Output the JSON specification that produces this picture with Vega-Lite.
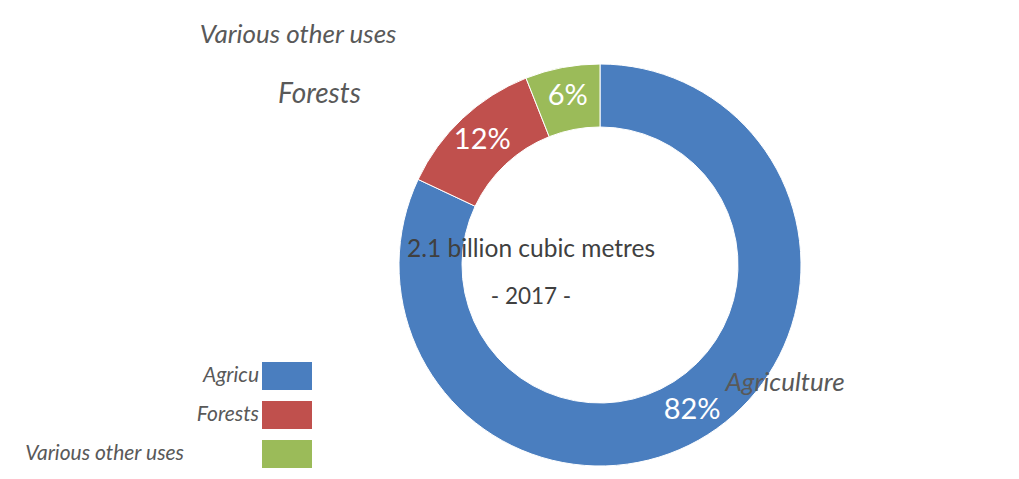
{
  "$schema": "https://vega.github.io/schema/vega-lite/v6.json",
  "autosize": {"type": "none"},
  "padding": {"left": 181, "top": 51, "right": 0, "bottom": 0},
  "width": 838,
  "height": 428,
  "background": "white",
  "config": {"view": {"stroke": null}, "font": "Lato"},
  "data": {"values": [
    {"category": "Agriculture", "share": 0.82},
    {"category": "Forests", "share": 0.12},
    {"category": "Various other uses", "share": 0.06}
  ]},
  "encoding": {
    "theta": {"field": "share", "type": "quantitative", "stack": true},
    "order": {"field": "share", "type": "quantitative", "sort": "descending"}
  },
  "layer": [
    {
      "mark": {"type": "arc", "radius": 201, "radius2": 138, "stroke": "white", "strokeWidth": 1},
      "encoding": {
        "color": {
          "field": "category", "type": "nominal",
          "scale": {"domain": ["Agriculture", "Forests", "Various other uses"], "range": ["#4A7EBF", "#C0504D", "#9BBB59"]},
          "legend": {
            "orient": "none", "legendX": 81, "legendY": 300, "title": null,
            "symbolType": "M-1,-0.56H1V0.56H-1Z", "symbolSize": 2500, "symbolStrokeWidth": 0, "symbolOpacity": 1,
            "labelAlign": "right", "labelOffset": -53, "labelFontStyle": "italic", "labelFontSize": 21,
            "labelColor": "#595959", "labelLimit": 400, "rowPadding": -1,
            "labelExpr": "datum.label == 'Agriculture' ? 'Agricu' : datum.label == 'Various other uses' ? 'Various other uses\u2800\u2800\u2800\u2800\u2800' : datum.label"
          }
        }
      }
    },
    {
      "mark": {"type": "text", "radius": 172, "fontSize": 29, "color": "white", "baseline": "middle"},
      "encoding": {"text": {"field": "share", "type": "quantitative", "format": ".0%"}}
    },
    {
      "mark": {"type": "text", "radius": 140, "dx": 110, "fontSize": 26, "fontStyle": "italic", "color": "#595959", "baseline": "middle"},
      "encoding": {"text": {"condition": {"test": "datum.category == 'Agriculture'", "field": "category"}, "value": ""}}
    },
    {
      "mark": {"type": "text", "radius": 233, "dx": -121, "fontSize": 28, "fontStyle": "italic", "color": "#595959", "baseline": "middle"},
      "encoding": {"text": {"condition": {"test": "datum.category == 'Forests'", "field": "category"}, "value": ""}}
    },
    {
      "mark": {"type": "text", "radius": 234, "dx": -258, "fontSize": 26, "fontStyle": "italic", "color": "#595959", "baseline": "middle"},
      "encoding": {"text": {"condition": {"test": "datum.category == 'Various other uses'", "field": "category"}, "value": ""}}
    },
    {
      "data": {"values": [{"note": "2.1 billion cubic metres"}]},
      "mark": {"type": "text", "dx": -69, "dy": -15, "fontSize": 24.5, "color": "#404040", "baseline": "middle"},
      "encoding": {"text": {"field": "note", "type": "nominal"}, "theta": null, "order": null}
    },
    {
      "data": {"values": [{"note": "- 2017 -"}]},
      "mark": {"type": "text", "dx": -69, "dy": 32, "fontSize": 22.5, "color": "#404040", "baseline": "middle"},
      "encoding": {"text": {"field": "note", "type": "nominal"}, "theta": null, "order": null}
    }
  ]
}
